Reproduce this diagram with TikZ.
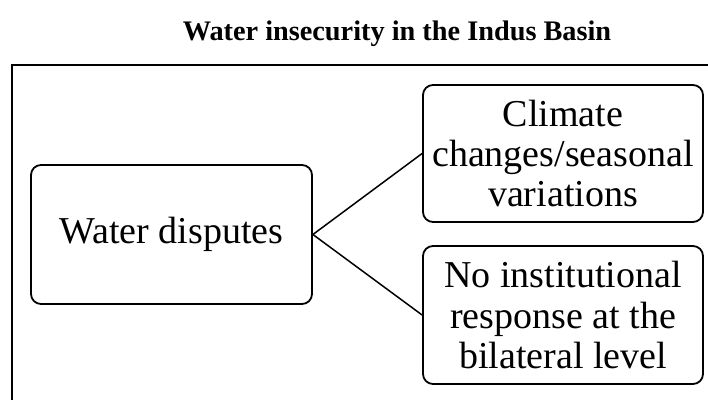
\documentclass[tikz,border=0pt]{standalone}
\usepackage{fontspec}
\setmainfont{Liberation Serif}
\begin{document}
\begin{tikzpicture}[x=1pt,y=1pt]
			\tikzstyle{r} = [draw, shape=rectangle, rounded corners=10pt, line width=1.8pt, align=center, inner sep=0pt, font=\fontsize{38}{40}\selectfont]
			\tikzstyle{frame} = [draw, line width=2.4pt]
			\useasboundingbox (0,0) rectangle (708,399);
			\clip (0,0) rectangle (708,399);
			\node[font=\bfseries\fontsize{28.3}{30}\selectfont] (title) at (397,365) {Water insecurity in the Indus Basin};
			\draw[frame] (12,-20) -- (12,334) -- (730,334);
			\node[r, minimum width=281pt, minimum height=139pt] (disputes) at (171.5,164.5) {Water disputes};
			\node[r, minimum width=280pt, minimum height=137pt] (climate) at (563,245.5) {Climate\\changes/seasonal\\variations};
			\node[r, minimum width=280pt, minimum height=138pt] (response) at (563,84) {No institutional\\response at the\\bilateral level};
			\draw[line width=1.5pt] (disputes.east) -- (climate.west);
			\draw[line width=1.5pt] (disputes.east) -- (response.west);
		\end{tikzpicture}
\end{document}
